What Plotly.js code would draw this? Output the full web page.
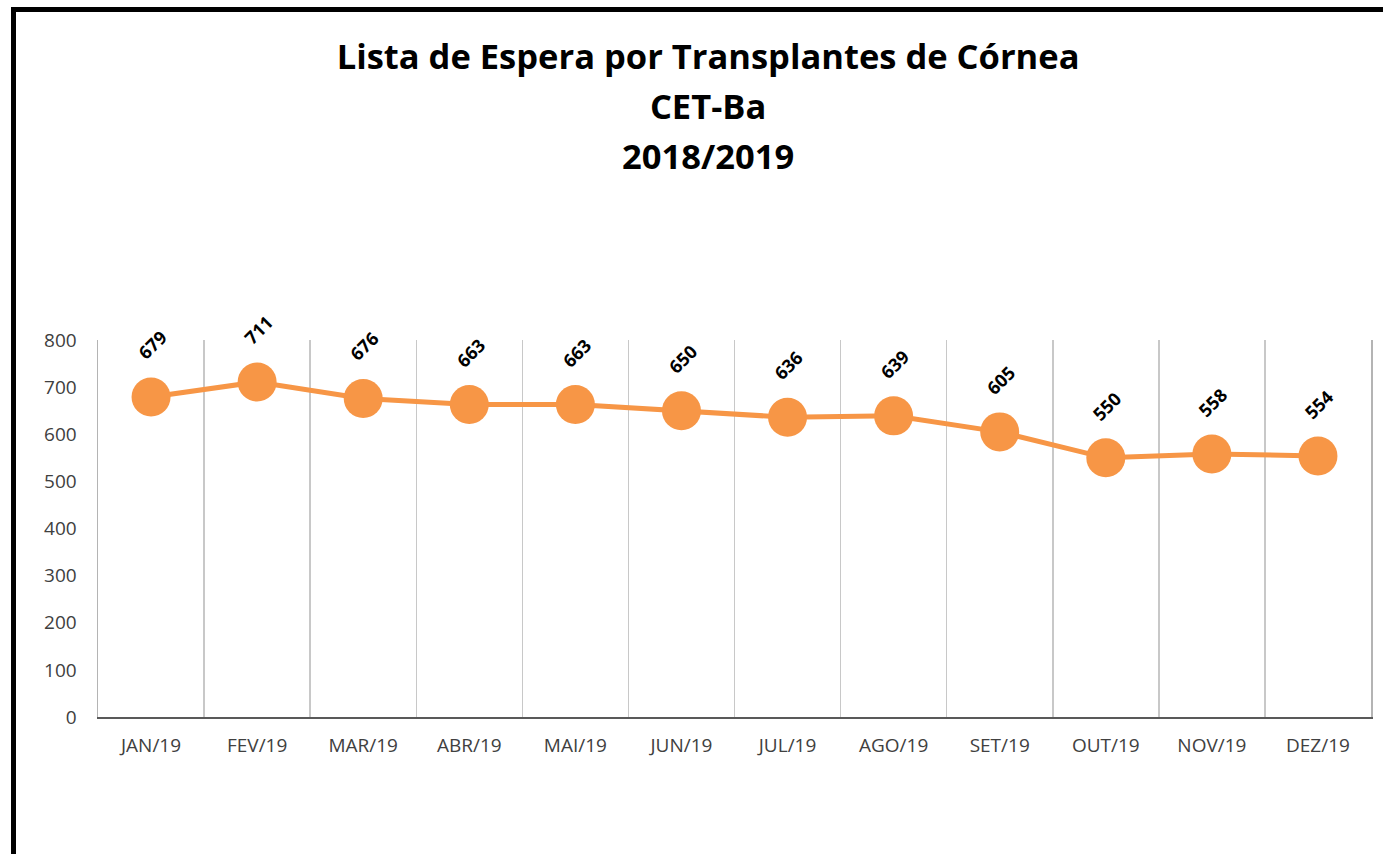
<!DOCTYPE html>
<html>
<head>
<meta charset="utf-8">
<script src="https://cdn.plot.ly/plotly-3.0.1.min.js"></script>
<style>
  html, body { margin: 0; padding: 0; background: #fff; }
  #wrap { position: relative; width: 1383px; height: 854px; overflow: hidden; }
  #chart { position: absolute; left: 0; top: 0; width: 1383px; height: 854px; }
  #frame { position: absolute; left: 11px; top: 7px; width: 1400px; height: 900px;
           border-top: 5px solid #000; border-left: 5px solid #000; pointer-events: none; }
</style>
</head>
<body>
<div id="wrap">
  <div id="chart"></div>
  <div id="frame"></div>
</div>
<script>
const months = ["JAN/19","FEV/19","MAR/19","ABR/19","MAI/19","JUN/19","JUL/19","AGO/19","SET/19","OUT/19","NOV/19","DEZ/19"];
const waiting = [679, 711, 676, 663, 663, 650, 636, 639, 605, 550, 558, 554];
const yTicks = [0, 100, 200, 300, 400, 500, 600, 700, 800];
const titleLines = ["Lista de Espera por Transplantes de Córnea", "CET-Ba", "2018/2019"];

const orange = "#F79646";
const font = "'Open Sans', 'Noto Sans', sans-serif";

const trace = {
  type: "scatter",
  mode: "lines+markers",
  x: months,
  y: waiting,
  line: { color: orange, width: 5 },
  marker: { color: orange, size: 39, line: { width: 0 } },
  cliponaxis: false,
  hoverinfo: "x+y"
};

const annotations = months.map((m, i) => ({
  x: m, y: waiting[i], xref: "x", yref: "y",
  text: String(waiting[i]),
  showarrow: false,
  textangle: -45,
  yshift: 52,
  xshift: 1,
  font: { family: font, size: 18, color: "#000", weight: 700 }
}));

const layout = {
  width: 1383, height: 854,
  paper_bgcolor: "#fff", plot_bgcolor: "#fff",
  margin: { l: 98, r: 12, t: 340, b: 137 },
  showlegend: false,
  title: {
    text: titleLines.map(t => "<span style='font-size:34.5px'>" + t + "</span>").join("<br>"),
    x: 0.512, xref: "container", xanchor: "center",
    y: 1 - 69 / 854, yref: "container", yanchor: "middle",
    font: { family: font, size: 38.5, color: "#000", weight: 700 }
  },
  xaxis: {
    type: "category",
    range: [-0.5, 11.5],
    tickson: "boundaries",
    showgrid: true, gridcolor: "#c8c8c8", gridwidth: 1.5,
    showline: true, linecolor: "#595959", linewidth: 2,
    ticks: "", zeroline: false,
    tickfont: { family: font, size: 19, color: "#404040" },
    ticklabelstandoff: 10
  },
  yaxis: {
    range: [0, 800],
    tickvals: yTicks,
    showgrid: false, zeroline: false,
    showline: true, mirror: true, linecolor: "#b4b4b4", linewidth: 1.5,
    ticks: "",
    tickfont: { family: font, size: 19, color: "#404040" },
    ticklabelstandoff: 16
  },
  annotations: annotations
};

Plotly.newPlot("chart", [trace], layout, { displayModeBar: false, staticPlot: true });
</script>
</body>
</html>
